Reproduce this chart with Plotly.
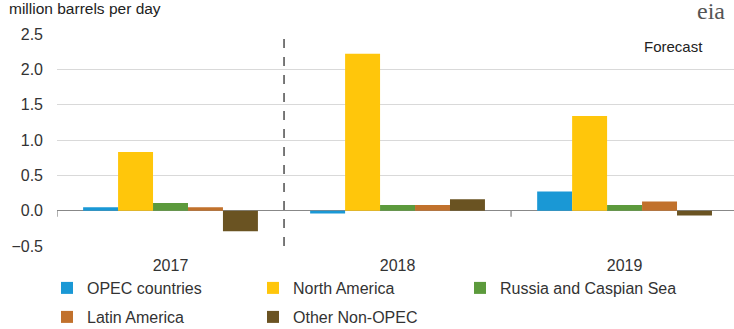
import plotly.graph_objects as go

years = ["2017", "2018", "2019"]
opec = [0.05, -0.04, 0.27]
north_america = [0.83, 2.22, 1.34]
russia_caspian = [0.11, 0.08, 0.08]
latin_america = [0.05, 0.08, 0.13]
other_non_opec = [-0.29, 0.16, -0.07]

FONT = "Liberation Sans, Arial, sans-serif"
W, H = 734, 329
L, R, T, B = 57, 0, 34, 83
PW = W - L - R
PH = H - T - B

# legend placement (pixel text-start x, pixel row center y)
series = [
    ("OPEC countries", opec, "#1a98d5", 87, 288),
    ("North America", north_america, "#ffc60b", 293, 288),
    ("Russia and Caspian Sea", russia_caspian, "#5c9a3c", 500, 288),
    ("Latin America", latin_america, "#c1712c", 87, 317),
    ("Other Non-OPEC", other_non_opec, "#6a5322", 293, 317),
]

fig = go.Figure()
layout_legends = {}
for i, (name, vals, color, tx, ty) in enumerate(series):
    key = "legend" if i == 0 else f"legend{i + 1}"
    fig.add_trace(go.Bar(x=[0, 1, 2], y=vals, name=name, marker_color=color,
                         marker_line_width=0, legend=key))
    layout_legends[key] = dict(
        orientation="h", xref="paper", yref="container",
        x=(tx - 40 - L) / PW, y=1 - ty / H, xanchor="left", yanchor="middle",
        font=dict(size=16, color="#333333"), bgcolor="rgba(0,0,0,0)",
        borderwidth=0, itemwidth=30,
    )

fig.update_layout(
    width=W, height=H, margin=dict(l=L, r=R, t=T, b=B, autoexpand=False),
    paper_bgcolor="white", plot_bgcolor="white",
    barmode="group", bargap=0.23, bargroupgap=0,
    font=dict(family=FONT, size=16, color="#333333"),
    xaxis=dict(range=[-0.5, 2.482], tickmode="array", tickvals=[0, 1, 2], ticktext=years,
               showgrid=False, zeroline=False, showline=False, ticks="",
               ticklabelstandoff=8,
               tickfont=dict(size=16, color="#333333"), fixedrange=True),
    yaxis=dict(range=[-0.5, 2.5], dtick=0.5, tickformat=".1f", showgrid=True,
               gridcolor="#d9d9d9", gridwidth=1, zeroline=True, zerolinecolor="#888888",
               zerolinewidth=1.3, showline=False, ticks="", ticklabelstandoff=13,
               tickfont=dict(size=16, color="#333333")),
    showlegend=True,
    **layout_legends,
)

# dashed forecast separator
fig.add_shape(type="line", xref="x", yref="y", x0=0.5, x1=0.5, y0=-0.5, y1=2.5,
              line=dict(color="#333333", width=1.3, dash="dash"))
# small tick marks on zero line
for xv in [-0.5, 1.5]:
    fig.add_shape(type="line", xref="x", yref="y", xsizemode="scaled", ysizemode="pixel",
                  yanchor=0, x0=xv, x1=xv, y0=0, y1=-6,
                  line=dict(color="#888888", width=1.3))

fig.add_annotation(text="million barrels per day", xref="paper", yref="paper",
                   x=(7 - L) / PW, y=1.0, yshift=15,
                   xanchor="left", yanchor="bottom", showarrow=False,
                   font=dict(size=15.5, color="#222222"))
fig.add_annotation(text="Forecast", xref="x", yref="y", x=2.215, y=2.33,
                   showarrow=False, font=dict(size=15, color="#222222"))
fig.add_annotation(text="eia", xref="paper", yref="paper", x=0.99, y=1 + (T + 4) / PH,
                   xanchor="right", yanchor="top", showarrow=False,
                   font=dict(size=24, color="#555555", family="Liberation Serif, serif"))

fig.write_html("out.html")
